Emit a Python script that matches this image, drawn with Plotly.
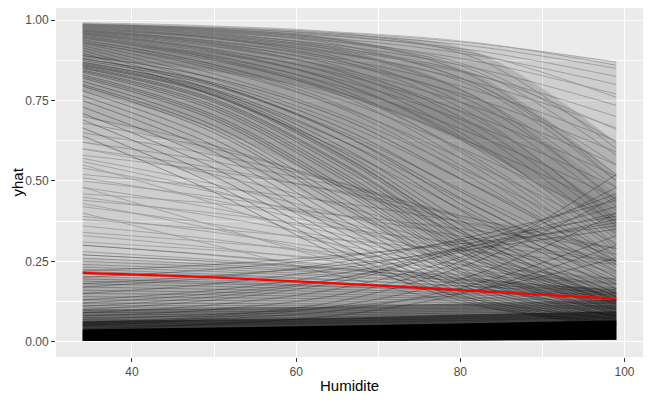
import plotly.graph_objects as go

# Humidite grid where each ICE curve is read
hum = [34, 50, 66, 82, 99]

# curves that start near the top and bend down slowly
top_lines = [
    [0.988, 0.978, 0.960, 0.928, 0.870],
    [0.986, 0.975, 0.955, 0.918, 0.850],
    [0.984, 0.971, 0.948, 0.905, 0.825],
    [0.982, 0.967, 0.940, 0.890, 0.800],
    [0.980, 0.962, 0.930, 0.872, 0.770],
    [0.977, 0.956, 0.918, 0.850, 0.735],
    [0.975, 0.950, 0.905, 0.828, 0.700],
    [0.972, 0.943, 0.892, 0.805, 0.665],
    [0.969, 0.935, 0.877, 0.780, 0.625],
    [0.966, 0.927, 0.862, 0.755, 0.590],
    [0.962, 0.918, 0.845, 0.728, 0.550],
    [0.958, 0.908, 0.828, 0.700, 0.515],
    [0.954, 0.898, 0.810, 0.672, 0.480],
    [0.950, 0.887, 0.790, 0.642, 0.445],
    [0.945, 0.875, 0.770, 0.612, 0.410],
    [0.940, 0.862, 0.748, 0.580, 0.372],
    [0.934, 0.848, 0.725, 0.548, 0.338],
    [0.928, 0.833, 0.700, 0.515, 0.305],
    [0.921, 0.817, 0.675, 0.482, 0.272],
    [0.914, 0.800, 0.648, 0.450, 0.242],
    [0.906, 0.782, 0.620, 0.418, 0.215],
    [0.898, 0.765, 0.592, 0.388, 0.190],
    [0.985, 0.965, 0.920, 0.800, 0.550],
    [0.980, 0.955, 0.900, 0.760, 0.480],
    [0.975, 0.945, 0.880, 0.720, 0.420],
    [0.970, 0.930, 0.850, 0.670, 0.360],
    [0.985, 0.970, 0.935, 0.850, 0.620],
    [0.960, 0.910, 0.820, 0.620, 0.300],
    [0.950, 0.890, 0.780, 0.560, 0.260],
    [0.990, 0.980, 0.962, 0.930, 0.860],
    [0.983, 0.966, 0.930, 0.840, 0.580],
    [0.978, 0.958, 0.912, 0.800, 0.520],
    [0.973, 0.946, 0.895, 0.790, 0.500],
    [0.967, 0.934, 0.868, 0.740, 0.440],
    [0.963, 0.922, 0.840, 0.690, 0.380],
    [0.956, 0.902, 0.800, 0.610, 0.320],
    [0.947, 0.882, 0.770, 0.570, 0.280],
    [0.937, 0.862, 0.730, 0.520, 0.240],
    [0.992, 0.982, 0.958, 0.880, 0.600],
    [0.987, 0.972, 0.935, 0.820, 0.500],
    [0.981, 0.960, 0.905, 0.760, 0.430],
    [0.974, 0.944, 0.870, 0.700, 0.370],
    [0.966, 0.926, 0.835, 0.650, 0.330],
    [0.958, 0.905, 0.800, 0.600, 0.290],
    [0.944, 0.880, 0.760, 0.540, 0.250],
    [0.930, 0.855, 0.720, 0.500, 0.230],
    [0.989, 0.976, 0.950, 0.895, 0.760],
    [0.976, 0.952, 0.910, 0.830, 0.660],
]

# dark bundle starting around 0.85 and falling steeply
bundle_lines = [
    [0.880, 0.800, 0.640, 0.400, 0.180],
    [0.870, 0.780, 0.600, 0.350, 0.150],
    [0.862, 0.770, 0.575, 0.320, 0.130],
    [0.858, 0.765, 0.565, 0.310, 0.125],
    [0.855, 0.755, 0.550, 0.295, 0.118],
    [0.850, 0.745, 0.535, 0.280, 0.110],
    [0.845, 0.735, 0.520, 0.268, 0.105],
    [0.838, 0.720, 0.500, 0.250, 0.098],
    [0.830, 0.705, 0.480, 0.235, 0.092],
    [0.820, 0.690, 0.460, 0.220, 0.085],
    [0.810, 0.672, 0.440, 0.205, 0.080],
    [0.795, 0.650, 0.415, 0.190, 0.075],
    [0.780, 0.630, 0.395, 0.178, 0.070],
    [0.765, 0.610, 0.375, 0.168, 0.066],
    [0.750, 0.590, 0.355, 0.158, 0.062],
    [0.730, 0.565, 0.335, 0.148, 0.058],
    [0.710, 0.540, 0.315, 0.138, 0.055],
    [0.690, 0.515, 0.295, 0.130, 0.052],
    [0.665, 0.490, 0.275, 0.122, 0.050],
    [0.640, 0.465, 0.258, 0.115, 0.048],
    [0.880, 0.805, 0.660, 0.440, 0.220],
    [0.890, 0.820, 0.690, 0.480, 0.250],
    [0.875, 0.795, 0.640, 0.420, 0.200],
    [0.868, 0.785, 0.620, 0.380, 0.165],
    [0.860, 0.768, 0.572, 0.318, 0.128],
    [0.852, 0.750, 0.545, 0.290, 0.115],
    [0.865, 0.775, 0.585, 0.335, 0.140],
    [0.842, 0.728, 0.510, 0.258, 0.100],
    [0.825, 0.698, 0.470, 0.228, 0.088],
    [0.800, 0.660, 0.425, 0.196, 0.078],
]

# curves starting mid-height
mid_lines = [
    [0.600, 0.520, 0.420, 0.300, 0.190],
    [0.570, 0.490, 0.390, 0.280, 0.175],
    [0.540, 0.465, 0.370, 0.262, 0.165],
    [0.510, 0.440, 0.350, 0.250, 0.160],
    [0.480, 0.415, 0.330, 0.238, 0.152],
    [0.450, 0.390, 0.315, 0.228, 0.148],
    [0.420, 0.365, 0.298, 0.218, 0.142],
    [0.390, 0.340, 0.280, 0.208, 0.138],
    [0.360, 0.318, 0.262, 0.198, 0.132],
    [0.330, 0.292, 0.245, 0.188, 0.128],
    [0.300, 0.268, 0.228, 0.178, 0.122],
    [0.620, 0.560, 0.480, 0.380, 0.270],
    [0.580, 0.530, 0.465, 0.380, 0.290],
    [0.520, 0.480, 0.430, 0.365, 0.290],
    [0.460, 0.430, 0.392, 0.345, 0.290],
    [0.550, 0.430, 0.290, 0.160, 0.080],
    [0.480, 0.360, 0.240, 0.130, 0.070],
    [0.400, 0.300, 0.200, 0.110, 0.060],
    [0.650, 0.580, 0.490, 0.370, 0.240],
    [0.680, 0.600, 0.490, 0.350, 0.210],
    [0.700, 0.610, 0.480, 0.320, 0.180],
    [0.600, 0.540, 0.460, 0.360, 0.250],
    [0.500, 0.450, 0.390, 0.320, 0.250],
    [0.440, 0.400, 0.350, 0.300, 0.250],
    [0.380, 0.350, 0.315, 0.280, 0.240],
    [0.340, 0.310, 0.275, 0.235, 0.195],
    [0.310, 0.285, 0.255, 0.220, 0.180],
    [0.270, 0.250, 0.228, 0.205, 0.180],
    [0.560, 0.470, 0.360, 0.240, 0.140],
    [0.430, 0.350, 0.260, 0.170, 0.100],
]

# curves rising with humidity
rising_lines = [
    [0.060, 0.080, 0.130, 0.250, 0.450],
    [0.080, 0.100, 0.150, 0.270, 0.520],
    [0.100, 0.130, 0.190, 0.300, 0.420],
    [0.050, 0.070, 0.100, 0.180, 0.330],
    [0.120, 0.150, 0.200, 0.290, 0.380],
    [0.150, 0.180, 0.230, 0.300, 0.370],
    [0.200, 0.225, 0.265, 0.320, 0.390],
    [0.070, 0.085, 0.110, 0.160, 0.260],
    [0.040, 0.055, 0.085, 0.160, 0.300],
    [0.090, 0.115, 0.170, 0.280, 0.480],
    [0.110, 0.140, 0.200, 0.310, 0.460],
    [0.130, 0.160, 0.215, 0.300, 0.400],
    [0.170, 0.200, 0.250, 0.330, 0.440],
    [0.055, 0.075, 0.115, 0.210, 0.400],
    [0.180, 0.205, 0.240, 0.290, 0.350],
    [0.220, 0.240, 0.270, 0.310, 0.360],
]

# flat curves near the bottom
low_lines = [
    [0.300, 0.270, 0.235, 0.195, 0.155],
    [0.280, 0.255, 0.225, 0.190, 0.150],
    [0.270, 0.248, 0.222, 0.192, 0.160],
    [0.260, 0.240, 0.215, 0.185, 0.150],
    [0.250, 0.233, 0.212, 0.188, 0.160],
    [0.240, 0.225, 0.205, 0.180, 0.150],
    [0.232, 0.218, 0.200, 0.178, 0.152],
    [0.225, 0.210, 0.192, 0.170, 0.145],
    [0.218, 0.205, 0.190, 0.172, 0.150],
    [0.210, 0.198, 0.182, 0.162, 0.140],
    [0.203, 0.192, 0.178, 0.162, 0.145],
    [0.195, 0.185, 0.172, 0.155, 0.135],
    [0.188, 0.180, 0.170, 0.158, 0.145],
    [0.180, 0.172, 0.162, 0.150, 0.135],
    [0.170, 0.163, 0.155, 0.145, 0.132],
    [0.160, 0.154, 0.147, 0.138, 0.128],
    [0.150, 0.146, 0.140, 0.134, 0.126],
    [0.140, 0.137, 0.133, 0.128, 0.122],
    [0.130, 0.128, 0.125, 0.122, 0.118],
    [0.120, 0.119, 0.117, 0.115, 0.112],
    [0.112, 0.112, 0.112, 0.112, 0.110],
    [0.105, 0.106, 0.107, 0.108, 0.108],
    [0.098, 0.100, 0.102, 0.104, 0.106],
    [0.090, 0.093, 0.096, 0.100, 0.104],
    [0.082, 0.086, 0.090, 0.095, 0.100],
    [0.075, 0.079, 0.084, 0.090, 0.096],
    [0.068, 0.072, 0.078, 0.085, 0.092],
    [0.060, 0.065, 0.071, 0.079, 0.088],
    [0.054, 0.059, 0.065, 0.073, 0.082],
    [0.048, 0.053, 0.059, 0.067, 0.076],
]

# shading bands (lower edge, upper edge) for the overlap density
envelope_top = [0.988, 0.978, 0.960, 0.928, 0.870]
floor_line = [0.002, 0.002, 0.003, 0.004, 0.006]
sheet_a = ([0.780, 0.660, 0.470, 0.250, 0.120], [0.990, 0.975, 0.940, 0.830, 0.520])
sheet_b = ([0.700, 0.580, 0.400, 0.200, 0.100], [0.970, 0.950, 0.900, 0.760, 0.460])
sheet_c = ([0.620, 0.500, 0.340, 0.170, 0.090], [0.930, 0.900, 0.840, 0.680, 0.400])
crest = ([0.880, 0.840, 0.760, 0.600, 0.340], [0.990, 0.978, 0.958, 0.900, 0.620])
lower_a = [0.260, 0.245, 0.230, 0.215, 0.200]
lower_b = [0.200, 0.190, 0.180, 0.175, 0.170]
dark_top = [0.100, 0.105, 0.110, 0.120, 0.130]
mid_dark_top = [0.065, 0.070, 0.075, 0.085, 0.095]
black_top = [0.038, 0.044, 0.050, 0.058, 0.066]

# average curve (red)
mean_yhat = [0.214, 0.200, 0.180, 0.157, 0.134]

fig = go.Figure()


def band(lower, upper, color):
    fig.add_trace(go.Scatter(x=hum, y=lower, mode="lines",
                             line=dict(width=0, shape="spline"),
                             hoverinfo="skip", showlegend=False))
    fig.add_trace(go.Scatter(x=hum, y=upper, mode="lines", fill="tonexty",
                             fillcolor=color, line=dict(width=0, shape="spline"),
                             hoverinfo="skip", showlegend=False))


def family(rows, opacity, width=0.8):
    xs, ys = [], []
    for r in rows:
        xs += hum + [None]
        ys += r + [None]
    fig.add_trace(go.Scatter(
        x=xs, y=ys, mode="lines", line=dict(color="black", width=width, shape="spline"),
        opacity=opacity, hoverinfo="skip", showlegend=False))


band(floor_line, envelope_top, "rgba(0,0,0,0.12)")
band(*sheet_a, "rgba(0,0,0,0.10)")
band(*sheet_b, "rgba(0,0,0,0.08)")
band(*sheet_c, "rgba(0,0,0,0.06)")
band(*crest, "rgba(0,0,0,0.13)")
band(floor_line, lower_a, "rgba(0,0,0,0.08)")
band(floor_line, lower_b, "rgba(0,0,0,0.10)")
family(top_lines, 0.28)
family(bundle_lines, 0.4)
family(mid_lines, 0.25)
family(rising_lines, 0.35)
family(low_lines, 0.3)
band(floor_line, dark_top, "rgba(0,0,0,0.30)")
band(floor_line, mid_dark_top, "rgba(0,0,0,0.5)")
band(floor_line, black_top, "rgba(0,0,0,1)")

fig.add_trace(go.Scatter(
    x=hum, y=mean_yhat, mode="lines",
    line=dict(color="#FF0000", width=2.2, shape="spline"), showlegend=False))

axis_common = dict(
    showgrid=True, gridcolor="white", gridwidth=1.1, zeroline=False,
    ticks="outside", ticklen=4, tickwidth=1, tickcolor="#333333",
    tickfont=dict(family="Liberation Sans", size=12, color="#4D4D4D"),
    showline=False, automargin=False,
)

# page body adds an 8px offset, so the figure is 8px smaller on each axis
fig.update_layout(
    width=643, height=394,
    margin=dict(l=48, r=8, t=0, b=45),
    paper_bgcolor="white", plot_bgcolor="#EBEBEB",
    font=dict(family="Liberation Sans"),
    xaxis=dict(range=[30.75, 102.25], tick0=0, dtick=20,
               minor=dict(dtick=10, showgrid=True, gridcolor="white", gridwidth=0.5),
               **axis_common),
    yaxis=dict(range=[-0.0477, 1.038], tickvals=[0, 0.25, 0.5, 0.75, 1.0],
               ticktext=["0.00", "0.25", "0.50", "0.75", "1.00"],
               minor=dict(tickvals=[0.125, 0.375, 0.625, 0.875], showgrid=True,
                          gridcolor="white", gridwidth=0.5),
               **axis_common),
    annotations=[
        dict(text="Humidite", xref="paper", yref="paper", x=0.5, y=-0.081,
             xanchor="center", yanchor="middle", showarrow=False,
             font=dict(size=15, color="black")),
        dict(text="yhat", xref="paper", yref="paper", x=-0.0664, y=0.5,
             xanchor="center", yanchor="middle", textangle=-90, showarrow=False,
             font=dict(size=15, color="black")),
    ],
)

fig.write_html("out.html")
